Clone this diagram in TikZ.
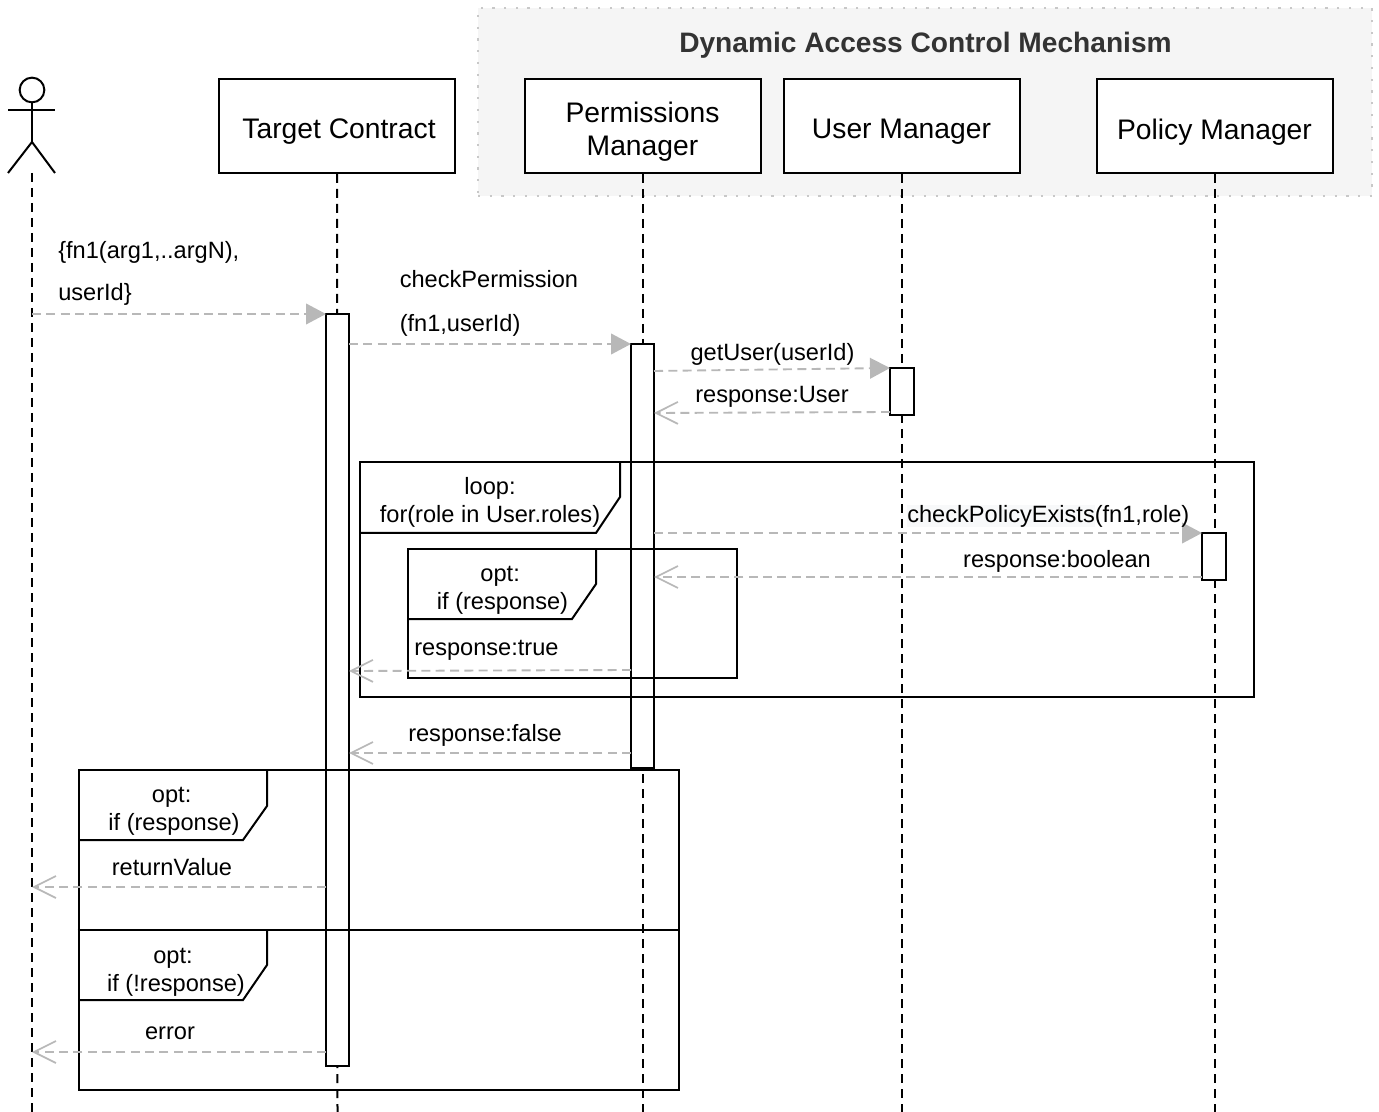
\documentclass[tikz,border=0pt]{standalone}
\usepackage{fontspec}
\setmainfont{Liberation Sans}
\usepackage{tikz}
\usetikzlibrary{arrows.meta, positioning, calc}

\definecolor{groupbg}{HTML}{F5F5F5}
\definecolor{groupline}{HTML}{C8C8C8}
\definecolor{msggray}{HTML}{B8B8B8}
\definecolor{titlegray}{HTML}{333333}
\definecolor{polbg}{HTML}{F8F9FA}
\setlength{\fboxsep}{0pt}
\newcommand{\partlabel}[1]{\raisebox{-4.5pt}[\height][\depth]{\parbox{170pt}{\centering #1}}}

\tikzset{
    partbox/.style={rectangle, draw, line width=1.5pt, fill=white, minimum width=177pt, minimum height=70.5pt, inner sep=0pt, font=\fontsize{21.2}{24.75}\selectfont},
    lifeline/.style={draw, line width=1.5pt, dash pattern=on 6.75pt off 4.5pt},
    actbar/.style={rectangle, draw, line width=1.5pt, fill=white, minimum width=17.5pt, inner sep=0pt},
    framebox/.style={rectangle, draw, line width=1.5pt, inner sep=0pt},
    tabline/.style={draw, line width=1.5pt},
    callmsg/.style={draw=msggray, line width=1.4pt, dash pattern=on 6.75pt off 4pt, -{Triangle[length=15pt,width=15.5pt,fill=msggray]}},
    backmsg/.style={draw=msggray, line width=1.4pt, dash pattern=on 6.75pt off 4pt, -{Straight Barb[length=16.5pt,width=16.5pt,line width=1.3pt]}},
    msglabel/.style={inner sep=0pt, font=\fontsize{17.7}{21}\selectfont, align=center},
    widelabel/.style={inner sep=0pt, font=\fontsize{17.7}{31.5}\selectfont, align=left}
}

\begin{document}
\begin{tikzpicture}[x=0.75pt, y=-0.75pt]
    \useasboundingbox (0,0) rectangle (1379,1112);

    \node[rectangle, draw=groupline, fill=groupbg, line width=1.7pt, dash pattern=on 1.7pt off 7.1pt, minimum width=670.5pt, minimum height=141pt] (mechanism) at (925,102) {};
    \node[inner sep=0pt, text=titlegray, font=\fontsize{21.1}{24}\selectfont\bfseries] (mechtitle) at (925.5,45.5) {Dynamic Access Control Mechanism};

    \node[partbox] (target) at (337,126) {\partlabel{\hspace*{3pt}Target Contract}};
    \node[partbox] (perms) at (642.5,126) {\partlabel{Permissions\\Manager}};
    \node[partbox] (usermgr) at (901.5,126) {\partlabel{User Manager}};
    \node[partbox] (policy) at (1214.5,126) {\partlabel{Policy Manager}};

    \coordinate (actorhip) at (32,142);
    \coordinate (actorfoot) at (32,173);
    \node[circle, draw, line width=1.5pt, minimum size=18.5pt, inner sep=0pt] (head) at (32,90) {};
    \draw[line width=1.5pt] (head.south) -- (actorhip);
    \draw[line width=1.5pt] (8,110) -- (55,110);
    \draw[line width=1.5pt] (8,173) -- (actorhip) -- (55,173);

    \coordinate (actorend) at (32,1112);
    \coordinate (targetend) at (337.5,1112);
    \coordinate (permsend) at (642.5,1112);
    \coordinate (userend) at (901.5,1112);
    \coordinate (policyend) at (1214.5,1112);
    \draw[lifeline] (actorfoot) -- (actorend);
    \draw[lifeline] (target.south) -- (targetend);
    \draw[lifeline] (perms.south) -- (permsend);
    \draw[lifeline] (usermgr.south) -- (userend);
    \draw[lifeline] (policy.south) -- (policyend);

    \node[actbar, minimum height=564pt] (targetbar) at (337.5,690) {};
    \node[actbar, minimum height=318pt] (permsbar) at (642.5,556) {};
    \node[actbar, minimum height=35.25pt] (userbar) at (902,391.5) {};
    \node[actbar, minimum height=35.25pt] (policybar) at (1214,556.5) {};

    \node[framebox, minimum width=670.5pt, minimum height=176.25pt] (loopframe) at (807,579.5) {};
    \draw[tabline] (620,462) -- (620,497) -- (596,533) -- (360,533);
    \node[framebox, minimum width=247pt, minimum height=96.75pt] (optinner) at (572.5,613.5) {};
    \draw[tabline] (596,549) -- (596,584) -- (572,619) -- (408,619);
    \node[framebox, minimum width=450pt, minimum height=240pt] (altframe) at (378.5,930) {};
    \draw[tabline] (altframe.west) -- (altframe.east);
    \draw[tabline] (267,770) -- (267,806) -- (243,840) -- (78.5,840);
    \draw[tabline] (267,930) -- (267,965) -- (243,1000) -- (78.5,1000);

    \coordinate (callfrom) at (32,314);
    \coordinate (callto) at (326,314);
    \coordinate (checkfrom) at (349,344);
    \coordinate (checkto) at (631,344);
    \coordinate (getfrom) at (654,371);
    \coordinate (getto) at (890,368);
    \coordinate (userfrom) at (890,412);
    \coordinate (userto) at (654,413);
    \coordinate (existsfrom) at (654,533);
    \coordinate (existsto) at (1202,533);
    \coordinate (boolfrom) at (1202,577);
    \coordinate (boolto) at (654,577);
    \coordinate (truefrom) at (631,670);
    \coordinate (trueto) at (349,671);
    \coordinate (falsefrom) at (631,753);
    \coordinate (falseto) at (349,753);
    \coordinate (valuefrom) at (326,887);
    \coordinate (valueto) at (32,887);
    \coordinate (errorfrom) at (326,1052);
    \coordinate (errorto) at (32,1052);

    \draw[callmsg] (callfrom) -- (callto);
    \draw[callmsg] (checkfrom) -- (checkto);
    \draw[callmsg] (getfrom) -- (getto);
    \draw[backmsg] (userfrom) -- (userto);
    \draw[callmsg] (existsfrom) -- (existsto);
    \draw[backmsg] (boolfrom) -- (boolto);
    \draw[backmsg] (truefrom) -- (trueto);
    \draw[backmsg] (falsefrom) -- (falseto);
    \draw[backmsg] (valuefrom) -- (valueto);
    \draw[backmsg] (errorfrom) -- (errorto);

    \node[widelabel, anchor=west] (calllabel) at (58,273) {\{fn1(arg1,..argN),\\userId\}};
    \node[widelabel, anchor=west] (checklabel) at (399.5,303) {checkPermission\\[1.5pt](fn1,userId)};
    \node[msglabel] (getlabel) at (772.5,354.5) {getUser(userId)};
    \node[msglabel] (userlabel) at (772,396.5) {response:User};
    \node[msglabel, anchor=west] (existslabel) at (907,516) {\colorbox{polbg}{checkPolicyExists}(fn1,role)};
    \node[msglabel] (boollabel) at (1057,561) {response:boolean};
    \node[msglabel, anchor=west] (truelabel) at (414,650.5) {response:true};
    \node[msglabel] (falselabel) at (485,735) {response:false};
    \node[msglabel] (valuelabel) at (172,867) {returnValue};
    \node[msglabel] (errorlabel) at (170,1033) {error};

    \node[msglabel] (looptitle) at (490,502) {loop:\\for(role in User.roles)};
    \node[msglabel] (opttitle) at (502.5,590.5) {opt:\rule{3.5pt}{0pt}\\if (response)};
    \node[msglabel] (thentitle) at (174,811.5) {opt:\rule{3.5pt}{0pt}\\if (response)};
    \node[msglabel] (elsetitle) at (176,972) {opt:\rule{4.5pt}{0pt}\\if (!response)};
\end{tikzpicture}
\end{document}
